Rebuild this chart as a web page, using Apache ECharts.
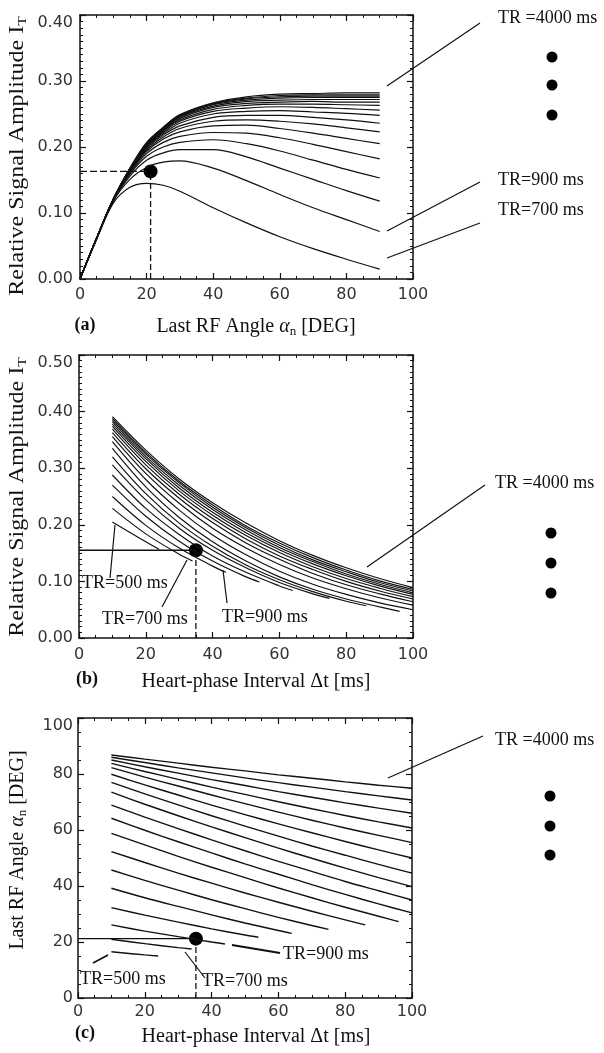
<!DOCTYPE html>
<html><head><meta charset="utf-8">
<script src="https://cdn.jsdelivr.net/npm/echarts@6/dist/echarts.min.js"></script>
<style>html,body{margin:0;padding:0;background:#fff}#c{width:604px;height:1053px}</style>
</head><body><div id="c"></div>
<script>
// ---------- Panel (a): I_T vs last RF angle ----------
const TR_A = [700, 900, 1100, 1300, 1500, 1700, 1900, 2100, 2300, 2500, 2700, 2900, 3100, 3300, 3500, 3700, 4000];
const aX = [0, 5, 10, 15, 20, 25, 30, 40, 50, 60, 70, 80, 90];
const aCurves = [
  [0, 0.060, 0.115, 0.139, 0.145, 0.142, 0.133, 0.108, 0.085, 0.064, 0.046, 0.030, 0.015],
  [0, 0.061, 0.118, 0.151, 0.169, 0.177, 0.179, 0.168, 0.149, 0.128, 0.108, 0.090, 0.072],
  [0, 0.061, 0.119, 0.156, 0.180, 0.191, 0.196, 0.196, 0.185, 0.168, 0.151, 0.134, 0.118],
  [0, 0.062, 0.120, 0.159, 0.186, 0.200, 0.207, 0.211, 0.205, 0.194, 0.180, 0.166, 0.153],
  [0, 0.062, 0.120, 0.161, 0.190, 0.207, 0.216, 0.222, 0.221, 0.214, 0.204, 0.193, 0.182],
  [0, 0.062, 0.120, 0.162, 0.193, 0.212, 0.223, 0.232, 0.233, 0.228, 0.221, 0.213, 0.205],
  [0, 0.062, 0.121, 0.163, 0.195, 0.215, 0.228, 0.239, 0.241, 0.239, 0.235, 0.229, 0.223],
  [0, 0.062, 0.121, 0.164, 0.197, 0.218, 0.232, 0.245, 0.248, 0.248, 0.245, 0.241, 0.236],
  [0, 0.062, 0.121, 0.165, 0.199, 0.220, 0.236, 0.250, 0.254, 0.255, 0.253, 0.251, 0.248],
  [0, 0.062, 0.121, 0.165, 0.200, 0.222, 0.239, 0.254, 0.259, 0.261, 0.260, 0.258, 0.256],
  [0, 0.062, 0.121, 0.166, 0.201, 0.224, 0.241, 0.257, 0.263, 0.265, 0.265, 0.264, 0.263],
  [0, 0.062, 0.121, 0.166, 0.202, 0.225, 0.243, 0.260, 0.266, 0.268, 0.269, 0.268, 0.268],
  [0, 0.062, 0.121, 0.167, 0.203, 0.226, 0.245, 0.262, 0.269, 0.271, 0.272, 0.272, 0.272],
  [0, 0.062, 0.121, 0.167, 0.204, 0.227, 0.246, 0.264, 0.271, 0.274, 0.275, 0.275, 0.275],
  [0, 0.062, 0.121, 0.167, 0.205, 0.228, 0.247, 0.265, 0.273, 0.276, 0.277, 0.277, 0.277],
  [0, 0.062, 0.121, 0.168, 0.206, 0.229, 0.248, 0.266, 0.274, 0.278, 0.279, 0.279, 0.279],
  [0, 0.062, 0.121, 0.168, 0.207, 0.230, 0.249, 0.267, 0.276, 0.280, 0.281, 0.282, 0.282]
];
const aPoint = [21.2, 0.163];

// ---------- Panels (b) and (c): vs heart-phase interval ----------
const TR_BC = [500, 700, 900, 1100, 1300, 1500, 1700, 1900, 2100, 2300, 2500, 2700, 2900, 3100, 3300, 3500, 3700, 4000];
const bcGridX = [10, 20, 30, 40, 50, 60, 70, 80, 90, 100];
const bcEndX = [24, 34, 44, 54, 64, 75, 86, 96, 100, 100, 100, 100, 100, 100, 100, 100, 100, 100];
// values at bcGridX (< end) followed by the value at the curve end
const bCurves = [
  [0.205, 0.170, 0.157],
  [0.229, 0.184, 0.148, 0.136],
  [0.250, 0.199, 0.159, 0.127, 0.116],
  [0.270, 0.215, 0.171, 0.136, 0.108, 0.099],
  [0.288, 0.229, 0.183, 0.145, 0.116, 0.092, 0.084],
  [0.306, 0.244, 0.194, 0.155, 0.124, 0.098, 0.078, 0.070],
  [0.320, 0.255, 0.203, 0.162, 0.129, 0.103, 0.082, 0.065, 0.057],
  [0.335, 0.267, 0.213, 0.170, 0.136, 0.108, 0.086, 0.069, 0.055, 0.047],
  [0.347, 0.280, 0.226, 0.182, 0.147, 0.118, 0.095, 0.077, 0.062, 0.050],
  [0.356, 0.291, 0.238, 0.194, 0.159, 0.130, 0.106, 0.087, 0.071, 0.058],
  [0.363, 0.299, 0.247, 0.204, 0.168, 0.139, 0.114, 0.094, 0.078, 0.064],
  [0.369, 0.306, 0.254, 0.211, 0.175, 0.145, 0.121, 0.100, 0.083, 0.069],
  [0.374, 0.312, 0.260, 0.217, 0.181, 0.151, 0.126, 0.105, 0.088, 0.073],
  [0.378, 0.317, 0.265, 0.222, 0.186, 0.156, 0.131, 0.110, 0.092, 0.077],
  [0.382, 0.321, 0.270, 0.227, 0.191, 0.160, 0.135, 0.113, 0.095, 0.080],
  [0.385, 0.325, 0.274, 0.231, 0.195, 0.164, 0.138, 0.117, 0.098, 0.083],
  [0.388, 0.328, 0.277, 0.235, 0.198, 0.168, 0.142, 0.120, 0.101, 0.086],
  [0.391, 0.332, 0.281, 0.239, 0.203, 0.172, 0.146, 0.124, 0.105, 0.089]
];
const cCurves = [
  [16.5, 15.4, 15.0],
  [21.0, 19.4, 18.0, 17.5],
  [26.1, 23.9, 21.9, 20.0, 19.3],
  [32.3, 29.6, 27.1, 24.7, 22.5, 21.7],
  [39.2, 35.8, 32.7, 29.7, 26.8, 24.1, 23.1],
  [45.7, 42.0, 38.5, 35.1, 31.9, 28.8, 25.9, 24.5],
  [52.3, 48.4, 44.6, 41.0, 37.5, 34.2, 31.0, 27.9, 26.1],
  [58.8, 54.7, 50.6, 46.7, 43.0, 39.3, 35.8, 32.4, 29.2, 27.3],
  [64.2, 59.9, 55.8, 51.8, 47.9, 44.2, 40.5, 37.0, 33.6, 30.4],
  [68.9, 64.6, 60.5, 56.5, 52.6, 48.8, 45.2, 41.6, 38.3, 35.0],
  [73.5, 69.2, 65.1, 61.1, 57.3, 53.5, 49.9, 46.4, 43.0, 39.8],
  [77.0, 72.9, 69.0, 65.1, 61.4, 57.8, 54.3, 51.0, 47.7, 44.6],
  [79.9, 76.1, 72.5, 68.9, 65.5, 62.2, 59.0, 55.9, 52.9, 50.0],
  [82.3, 78.9, 75.7, 72.5, 69.4, 66.4, 63.5, 60.7, 58.1, 55.5],
  [83.8, 80.9, 78.1, 75.3, 72.7, 70.1, 67.6, 65.2, 62.9, 60.7],
  [85.0, 82.6, 80.3, 78.0, 75.9, 73.7, 71.7, 69.7, 67.8, 66.0],
  [86.0, 84.1, 82.2, 80.4, 78.6, 76.9, 75.3, 73.7, 72.2, 70.7],
  [86.8, 85.3, 83.9, 82.4, 81.1, 79.7, 78.5, 77.2, 76.0, 74.9]
];
const bPoint = [35.0, 0.155];
const cPoint = [35.3, 21.2];

// axis tick settings per panel
const xTickStep = 20;
const yTickStepA = 0.1, yTickStepB = 0.1, yTickStepC = 20;
const yDecimalsA = 2, yDecimalsB = 2, yDecimalsC = 0;

// ---------------------------------------------------------
const chart = echarts.init(document.getElementById('c'), null, {renderer: 'canvas'});
const INK = '#111';
const SERIF = 'Liberation Serif';

const grids = [
  {left: 80, top: 15, width: 333, height: 264},
  {left: 79, top: 355, width: 334, height: 283},
  {left: 78, top: 718, width: 334, height: 280}
];

function xAxesFor(gi, margin) {
  const base = {
    type: 'value', gridIndex: gi, min: 0, max: 100, interval: xTickStep,
    axisLine: {onZero: false, lineStyle: {color: INK, width: 1.5}},
    axisTick: {inside: true, length: 6, lineStyle: {color: INK, width: 1.2}},
    minorTick: {show: true, splitNumber: 4, length: 3, lineStyle: {color: INK, width: 1}},
    splitLine: {show: false}
  };
  return [
    Object.assign({}, base, {position: 'bottom',
      axisLabel: {fontFamily: 'DejaVu Sans', fontSize: 16, color: '#333', margin: margin}}),
    Object.assign({}, base, {position: 'top', axisLabel: {show: false}})
  ];
}
function yAxesFor(gi, max, step, minorSplit, dec, margin) {
  const base = {
    type: 'value', gridIndex: gi, min: 0, max: max, interval: step,
    axisLine: {onZero: false, lineStyle: {color: INK, width: 1.5}},
    axisTick: {inside: true, length: 6, lineStyle: {color: INK, width: 1.2}},
    minorTick: {show: true, splitNumber: minorSplit, length: 3, lineStyle: {color: INK, width: 1}},
    splitLine: {show: false}
  };
  return [
    Object.assign({}, base, {position: 'left',
      axisLabel: {fontFamily: 'DejaVu Sans', fontSize: 16, color: '#333', margin: margin,
        verticalAlignMaxLabel: 'top',
        formatter: v => v.toFixed(dec)}}),
    Object.assign({}, base, {position: 'right', axisLabel: {show: false}})
  ];
}

const xAxis = [].concat(xAxesFor(0, 8), xAxesFor(1, 9), xAxesFor(2, 6));
const yAxis = [].concat(
  yAxesFor(0, 0.4, yTickStepA, 10, yDecimalsA, 7),
  yAxesFor(1, 0.5, yTickStepB, 10, yDecimalsB, 6),
  yAxesFor(2, 100, yTickStepC, 4, yDecimalsC, 5)
);

const series = [];
function curve(name, xi, yi, data, width) {
  series.push({
    name: name, type: 'line', xAxisIndex: xi, yAxisIndex: yi, data: data,
    showSymbol: false, smooth: 0.35, silent: true, animation: false,
    lineStyle: {color: INK, width: width}
  });
}
// panel a
TR_A.forEach((tr, i) => curve('a TR=' + tr, 0, 0, aX.map((x, j) => [x, aCurves[i][j]]), 1.2));
// panels b, c
function bcPairs(vals, endX) {
  const xs = bcGridX.filter(x => x < endX).concat([endX]);
  return xs.map((x, j) => [x, vals[j]]);
}
TR_BC.forEach((tr, i) => curve('b TR=' + tr, 2, 2, bcPairs(bCurves[i], bcEndX[i]), 1.15));
TR_BC.forEach((tr, i) => curve('c TR=' + tr, 4, 4, bcPairs(cCurves[i], bcEndX[i]), 1.4));

// operating-point guides
function guides(xi, yi, p, hType) {
  series.push({type: 'line', xAxisIndex: xi, yAxisIndex: yi, silent: true, animation: false,
    showSymbol: false, data: [[0, p[1]], [p[0], p[1]]],
    lineStyle: {color: INK, width: 1.3, type: hType}});
  series.push({type: 'line', xAxisIndex: xi, yAxisIndex: yi, silent: true, animation: false,
    showSymbol: false, data: [[p[0], 0], [p[0], p[1]]],
    lineStyle: {color: INK, width: 1.3, type: [6, 3]}});
  series.push({type: 'scatter', xAxisIndex: xi, yAxisIndex: yi, silent: true, animation: false,
    data: [p], symbolSize: 14, itemStyle: {color: '#000', opacity: 1}});
}
guides(0, 0, aPoint, [7, 3]);
guides(2, 2, bPoint, 'solid');
guides(4, 4, cPoint, 'solid');

// ---------- annotations ----------
const g = [];
function label(x, y, text, opts) {
  g.push({type: 'text', x: x, y: y, silent: true, style: Object.assign({
    text: text, fontFamily: SERIF, fontSize: 18, fill: INK, align: 'left', verticalAlign: 'middle'
  }, opts || {})});
}
function leader(x1, y1, x2, y2, w) {
  g.push({type: 'line', silent: true, shape: {x1, y1, x2, y2}, style: {stroke: INK, lineWidth: w || 1.2}});
}
function dots(x, ys) {
  ys.forEach(y => g.push({type: 'circle', silent: true, shape: {cx: x, cy: y, r: 5.5}, style: {fill: '#000'}}));
}
// panel a
label(498, 18, 'TR =4000 ms'); leader(387, 86, 480, 23);
dots(552, [57, 85, 115]);
label(498, 180, 'TR=900 ms'); leader(387, 231, 480, 182);
label(498, 210, 'TR=700 ms'); leader(387, 258, 480, 223);
// panel b
label(82, 583, 'TR=500 ms'); leader(110, 578, 115, 525);
label(102, 619, 'TR=700 ms'); leader(162, 607, 187, 560);
label(222, 617, 'TR=900 ms'); leader(223, 570, 227, 603);
label(495, 483, 'TR =4000 ms'); leader(367, 567, 485, 485);
dots(551, [533, 563, 593]);
// panel c
label(80, 979, 'TR=500 ms'); leader(93, 963, 108, 955, 1.6);
label(202, 981, 'TR=700 ms'); leader(185, 952, 205, 978);
label(283, 954, 'TR=900 ms'); leader(232, 945, 280, 953, 2);
label(495, 740, 'TR =4000 ms'); leader(388, 778, 483, 736);
dots(550, [796, 826, 855]);

// panel tags and axis titles
const rich = {
  n: {fontFamily: SERIF, fontSize: 20, fill: INK},
  i: {fontFamily: SERIF, fontSize: 20, fontStyle: 'italic', fill: INK},
  s: {fontFamily: SERIF, fontSize: 13, fill: INK, padding: [9, 0, 0, 0]}
};
function title(x, y, text, rot, stretch) {
  g.push({type: 'text', x: x, y: y, rotation: rot || 0, scaleX: stretch || 1, silent: true,
    style: {text: text, rich: rich, align: 'center', verticalAlign: 'middle'}});
}
label(85, 325, '(a)', {fontWeight: 'bold', align: 'center'});
label(87, 679, '(b)', {fontWeight: 'bold', align: 'center'});
label(85, 1033, '(c)', {fontWeight: 'bold', align: 'center'});
title(256, 327, '{n|Last RF Angle }{i|α}{s|n}{n| [DEG]}');
title(256, 682, '{n|Heart-phase Interval Δt [ms]}');
title(256, 1037, '{n|Heart-phase Interval Δt [ms]}');
title(18, 156, '{n|Relative Signal Amplitude I}{s|T}', Math.PI / 2, 1.2);
title(18, 497, '{n|Relative Signal Amplitude I}{s|T}', Math.PI / 2, 1.2);
title(18, 850, '{n|Last RF Angle }{i|α}{s|n}{n| [DEG]}', Math.PI / 2);

chart.setOption({
  backgroundColor: '#fff',
  animation: false,
  grid: grids,
  xAxis: xAxis,
  yAxis: yAxis,
  series: series,
  graphic: g
});
</script>
</body></html>
